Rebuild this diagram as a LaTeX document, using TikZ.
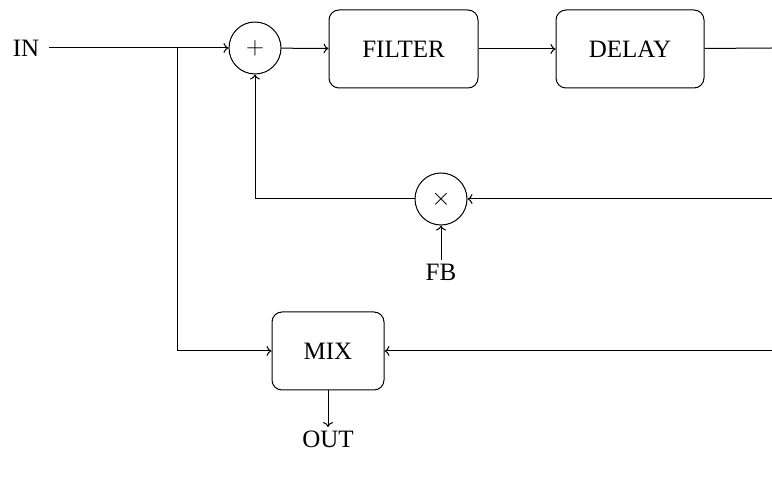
\documentclass[tikz,border=0pt]{standalone}
\usepackage{fontspec}
\setmainfont{Liberation Serif}
\usetikzlibrary{positioning, arrows.meta}
\tikzset{
    blockbox/.style = {draw, rounded corners = 10pt, line width = 1pt, minimum height = 78pt},
    sumnode/.style = {draw, circle, line width = 1pt, minimum size = 52pt, inner sep = 0pt, font = \fontsize{31}{36}\selectfont},
    sig/.style = {line width = 1pt, -{To[length = 5pt, width = 10pt]}}
}
\begin{document}
\begin{tikzpicture}[x = 1pt, y = -1pt, font = \fontsize{25}{30}\selectfont]
        \useasboundingbox (0, 0) rectangle (772, 478);
        % blocks
        \node[inner xsep = 10pt] (in) at (26, 48) {IN};
        \node[sumnode] (add) at (255, 48) {$+$};
        \node[blockbox, minimum width = 149pt] (filter) at (403.5, 49) {FILTER};
        \node[blockbox, minimum width = 148pt] (delay) at (630, 49) {DELAY};
        \node[sumnode] (mul) at (441, 199) {$\times$};
        \node (fb) at (441, 272) {FB};
        \node[blockbox, minimum width = 112pt] (mix) at (328, 351) {MIX};
        \node (out) at (328, 439) {OUT};
        % edge coordinates
        \coordinate (split) at (177, 48);
        \coordinate (wetout) at (772, 48);
        \coordinate (wetback) at (772, 199);
        \coordinate (wetmix) at (772, 351);
        % wiring
        \draw[sig] (in) -- (add);
        \draw[sig] (add) -- (filter);
        \draw[sig] (filter) -- (delay);
        \draw[line width = 1pt] (delay) -- (wetout);
        \draw[sig] (wetback) -- (mul);
        \draw[sig] (mul) -| (add);
        \draw[sig] (fb) -- (mul);
        \draw[sig] (split) |- (mix);
        \draw[sig] (wetmix) -- (mix);
        \draw[sig] (mix) -- (out);
    \end{tikzpicture}
\end{document}
